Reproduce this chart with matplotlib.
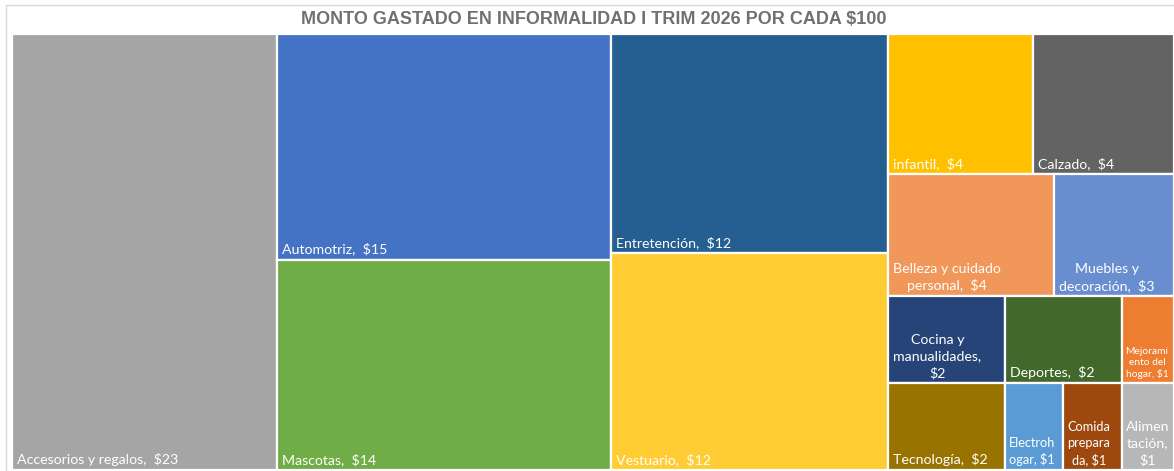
import matplotlib
matplotlib.use("Agg")
import matplotlib.pyplot as plt
from matplotlib.patches import Rectangle

# Monto gastado en informalidad por cada $100
categories = [
    "Accesorios y regalos", "Automotriz", "Mascotas", "Entretención", "Vestuario",
    "infantil", "Calzado", "Belleza y cuidado personal", "Muebles y decoración",
    "Cocina y manualidades", "Deportes", "Mejoramiento del hogar",
    "Tecnología", "Electrohogar", "Comida preparada", "Alimentación",
]
values = [22.8, 14.9, 13.9, 12.0, 11.9,
          4.0, 3.9, 4.0, 2.9,
          2.0, 2.0, 0.9,
          2.0, 1.0, 1.0, 0.9]
colors = ["#A5A5A5", "#4472C4", "#70AD47", "#255E91", "#FFCD33",
          "#FFC000", "#636363", "#F1975A", "#698ED0",
          "#264478", "#43682B", "#ED7D31",
          "#997300", "#5B9BD5", "#9E480E", "#B7B7B7"]

# Excel treemap arrangement: columns -> rows -> items
layout = [
    [["Accesorios y regalos"]],
    [["Automotriz"], ["Mascotas"]],
    [["Entretención"], ["Vestuario"]],
    [["infantil", "Calzado"],
     ["Belleza y cuidado personal", "Muebles y decoración"],
     ["Cocina y manualidades", "Deportes", "Mejoramiento del hogar"],
     ["Tecnología", "Electrohogar", "Comida preparada", "Alimentación"]],
]

# labels wrapped the way Excel wraps them in narrow boxes
wrapped = {
    "Belleza y cuidado personal": "Belleza y cuidado\npersonal,  ${v}",
    "Muebles y decoración": "Muebles y\ndecoración,  ${v}",
    "Cocina y manualidades": "Cocina y\nmanualidades,\n${v}",
    "Mejoramiento del hogar": "Mejorami\nento del\nhogar, ${v}",
    "Electrohogar": "Electroh\nogar, ${v}",
    "Comida preparada": "Comida\nprepara\nda, ${v}",
    "Alimentación": "Alimen\ntación,\n${v}",
}
label_scale = {"Mejoramiento del hogar": 0.72, "Electrohogar": 0.9,
               "Comida preparada": 0.9, "Alimentación": 1.0}

plt.rcParams["font.family"] = ["Lato", "DejaVu Sans"]
BASE_FS = 10.2

val = dict(zip(categories, values))
col = dict(zip(categories, colors))

fig = plt.figure(figsize=(11.74, 4.71), dpi=100)
fig.patches.append(Rectangle((6 / 1174, -0.1), 1.2, (471 - 5) / 471 + 0.1,
                             transform=fig.transFigure, fill=False,
                             edgecolor="#D9D9D9", linewidth=1.0))
ax = fig.add_axes([12 / 1174, 1 / 471, 1162 / 1174, 436 / 471])
total = sum(values)
ax.set_xlim(0, total)
ax.set_ylim(1, 0)
ax.axis("off")

x = 0.0
for column in layout:
    col_sum = sum(val[c] for row in column for c in row)
    y = 0.0
    for row in column:
        row_sum = sum(val[c] for c in row)
        h = row_sum / col_sum
        xi = x
        for c in row:
            w = val[c] / row_sum * col_sum
            ax.add_patch(Rectangle((xi, y), w, h, facecolor=col[c],
                                   edgecolor="white", linewidth=1.6))
            v = f"{val[c]:.0f}"
            text = wrapped[c].format(v=v) if c in wrapped else f"{c},  ${v}"
            small = c in label_scale
            ax.annotate(text, xy=(xi, y + h), xytext=(4 if small else 5, 4),
                        textcoords="offset pixels", ha="left", va="bottom",
                        multialignment="center", color="white",
                        fontsize=BASE_FS * label_scale.get(c, 1.0),
                        linespacing=1.4 if c != "Mejoramiento del hogar" else 1.3)
            xi += w
        y += h
    x += col_sum

fig.text(594 / 1174, 1 - 19 / 471, "MONTO GASTADO EN INFORMALIDAD I TRIM 2026 POR CADA $100",
         ha="center", va="center", fontsize=13, fontweight="bold",
         color="#707070", family=["Liberation Sans Narrow", "Liberation Sans", "DejaVu Sans"])

fig.savefig("out.png", dpi=100)
